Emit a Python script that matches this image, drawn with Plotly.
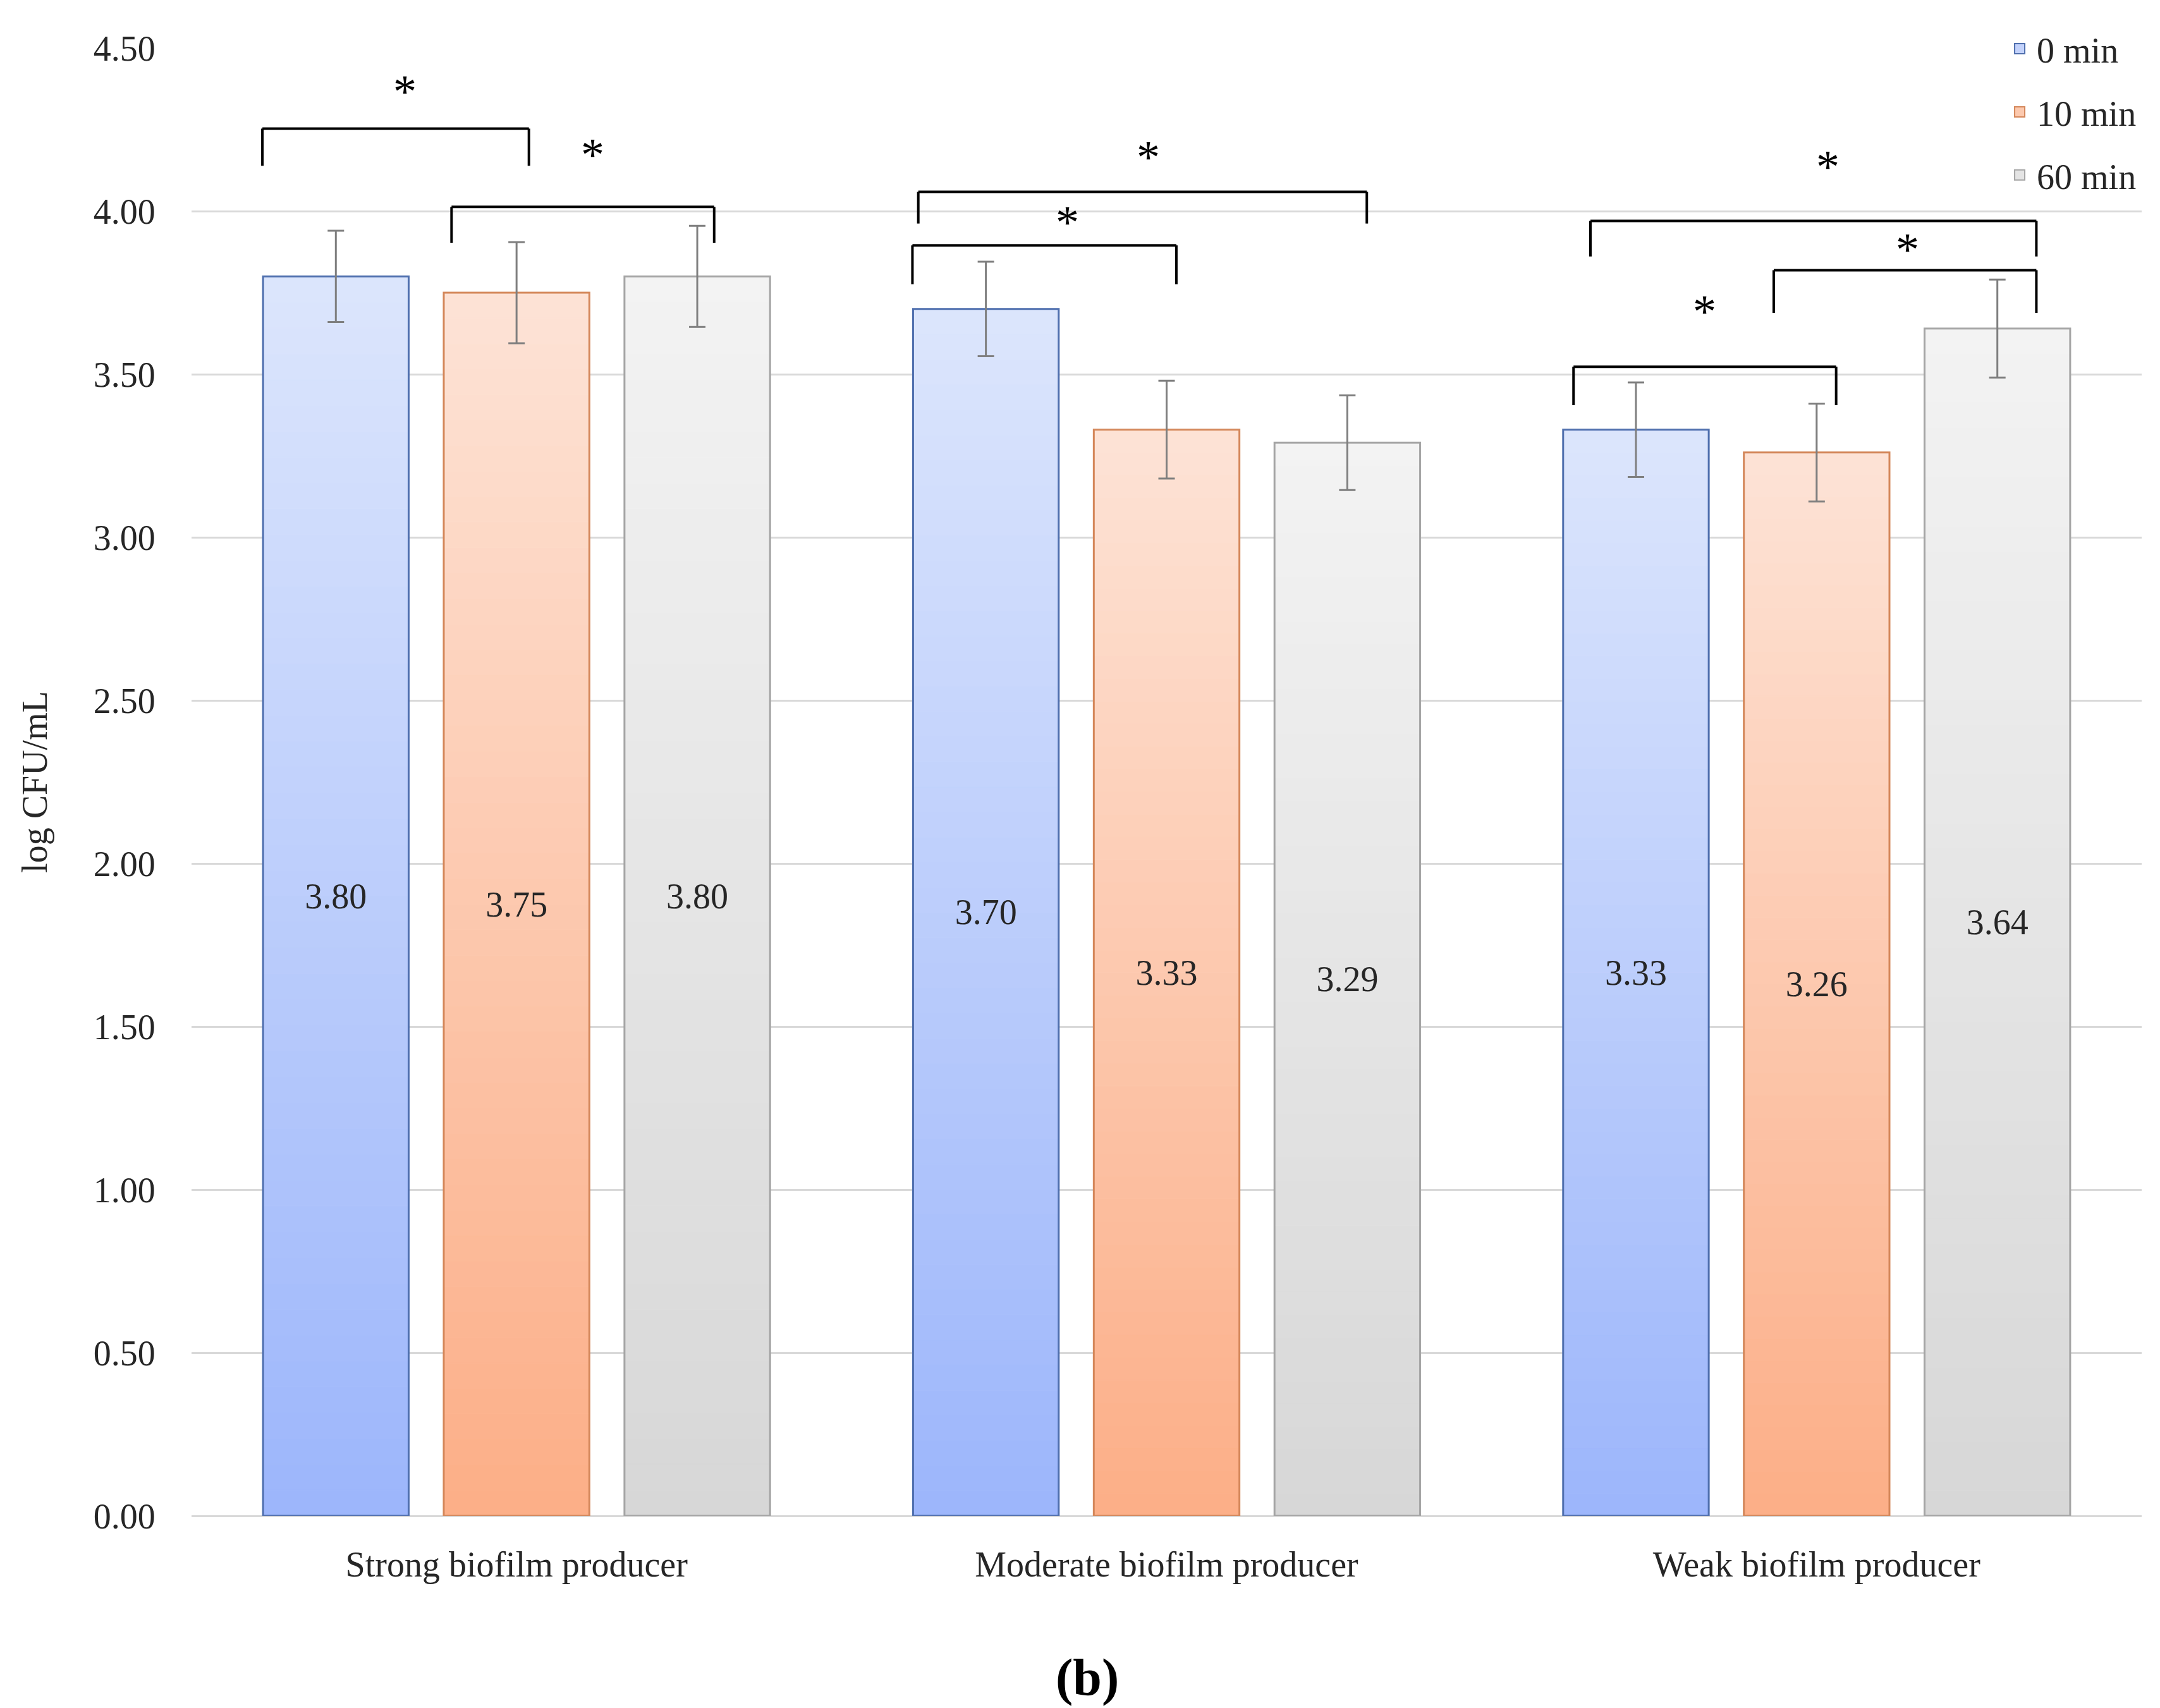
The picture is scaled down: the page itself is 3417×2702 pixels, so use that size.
import plotly.graph_objects as go

# ---------------- data ----------------
categories = ["Strong biofilm producer", "Moderate biofilm producer", "Weak biofilm producer"]
series_names = ["0 min", "10 min", "60 min"]
values_0min = [3.80, 3.70, 3.33]
values_10min = [3.75, 3.33, 3.26]
values_60min = [3.80, 3.29, 3.64]
errors_0min = [0.14, 0.145, 0.145]
errors_10min = [0.155, 0.15, 0.15]
errors_60min = [0.155, 0.145, 0.15]
y_tick_values = [0.0, 0.5, 1.0, 1.5, 2.0, 2.5, 3.0, 3.5, 4.0, 4.5]
y_tick_labels = ["0.00", "0.50", "1.00", "1.50", "2.00", "2.50", "3.00", "3.50", "4.00", "4.50"]

# significance brackets: (group index, left rel, right rel, top y, end y, star rel x, star y)
brackets = [
    (0, -0.391, 0.019, 4.253, 4.139, -0.172, 4.367),
    (0, -0.100, 0.304, 4.013, 3.903, 0.117, 4.173),
    (1, -0.382, 0.308, 4.059, 3.962, -0.028, 4.165),
    (1, -0.391, 0.015, 3.895, 3.776, -0.153, 3.966),
    (2, -0.348, 0.338, 3.970, 3.861, 0.017, 4.135),
    (2, -0.066, 0.338, 3.819, 3.688, 0.140, 3.882),
    (2, -0.374, 0.030, 3.523, 3.405, -0.172, 3.692),
]

# ---------------- style ----------------
FONT = "Liberation Serif, Times New Roman, serif"
TXT = "#262626"
bottom_colors = [(156, 182, 251), (252, 174, 135), (215, 215, 215)]
top_colors = [(220, 229, 252), (253, 227, 214), (243, 243, 243)]
outline_colors = ["#4f6fae", "#d4875a", "#a5a5a5"]
legend_fill = ["#c3d2fb", "#fcc9ae", "#e4e4e4"]
BAR_W = 0.224
SPACING = 0.278
N_SEG = 48

series_values = [values_0min, values_10min, values_60min]
series_errors = [errors_0min, errors_10min, errors_60min]

fig = go.Figure()


def mix(c0, c1, t):
    return "rgb(%d,%d,%d)" % tuple(round(a + (b - a) * t) for a, b in zip(c0, c1))


# gradient fill built from stacked bar segments
for j, vals in enumerate(series_values):
    off = (j - 1) * SPACING - BAR_W / 2
    for k in range(N_SEG):
        t = (k + 0.5) / N_SEG
        col = mix(bottom_colors[j], top_colors[j], t)
        fig.add_trace(go.Bar(
            x=categories,
            y=[v / N_SEG for v in vals],
            base=[v * k / N_SEG for v in vals],
            width=BAR_W, offset=off,
            marker=dict(color=col, line=dict(width=1, color=col)),
            showlegend=False, hoverinfo="skip",
        ))

# outlines, value labels and error bars
for j, vals in enumerate(series_values):
    off = (j - 1) * SPACING - BAR_W / 2
    fig.add_trace(go.Bar(
        x=categories, y=vals, width=BAR_W, offset=off,
        name=series_names[j], showlegend=False,
        marker=dict(color="rgba(0,0,0,0)", line=dict(color=outline_colors[j], width=3)),
        text=[f"{v:.2f}" for v in vals],
        textposition="inside", insidetextanchor="middle", textangle=0,
        constraintext="none",
        textfont=dict(family=FONT, size=56, color=TXT),
        error_y=dict(type="data", array=series_errors[j], color="#7f7f7f", thickness=3, width=13),
    ))

# legend entries
for j, name in enumerate(series_names):
    fig.add_trace(go.Scatter(
        x=[None], y=[None], mode="markers", name=name, legendgroup=name,
        marker=dict(symbol="square", size=16, color=legend_fill[j],
                    line=dict(color=outline_colors[j], width=2)),
    ))

shapes = []
annotations = []
for g, l, r, ytop, yend, sx, sy in brackets:
    x0, x1 = g + l, g + r
    for (xa, ya, xb, yb) in [(x0, yend, x0, ytop), (x0, ytop, x1, ytop), (x1, ytop, x1, yend)]:
        shapes.append(dict(type="line", xref="x", yref="y", x0=xa, y0=ya, x1=xb, y1=yb,
                           line=dict(color="black", width=4)))
    annotations.append(dict(text="*", xref="x", yref="y", x=g + sx, y=sy, showarrow=False,
                            xanchor="center", yanchor="middle",
                            font=dict(family=FONT, size=74, color="black")))

annotations.append(dict(text="<b>(b)</b>", xref="paper", yref="paper", x=0.4593, y=-0.1102,
                        showarrow=False, xanchor="center", yanchor="middle",
                        font=dict(family=FONT, size=82, color="black")))

fig.update_layout(
    width=3417, height=2702,
    margin=dict(l=295, r=37, t=68, b=312, autoexpand=False),
    barmode="overlay",
    plot_bgcolor="white", paper_bgcolor="white",
    font=dict(family=FONT, size=56, color=TXT),
    xaxis=dict(type="category", range=[-0.5, 2.5], showgrid=False, showline=False,
               zeroline=False, ticks="outside", ticklen=28, tickcolor="rgba(0,0,0,0)",
               tickfont=dict(family=FONT, size=56, color=TXT)),
    yaxis=dict(range=[0, 4.5], tickvals=y_tick_values, ticktext=y_tick_labels,
               showgrid=True, gridcolor="#d9d9d9", gridwidth=3,
               zeroline=True, zerolinecolor="#d9d9d9", zerolinewidth=3,
               showline=False, ticks="outside", ticklen=45, tickcolor="rgba(0,0,0,0)",
               tickfont=dict(family=FONT, size=56, color=TXT),
               title=dict(text="log CFU/mL", standoff=55, font=dict(family=FONT, size=56, color=TXT))),
    legend=dict(x=0.9287, xanchor="left", y=1.018, yanchor="top", bgcolor="white",
                borderwidth=0, font=dict(family=FONT, size=56, color=TXT),
                itemwidth=44, tracegroupgap=24, traceorder="grouped"),
    shapes=shapes, annotations=annotations,
    showlegend=True,
)

fig.write_html("out.html")
